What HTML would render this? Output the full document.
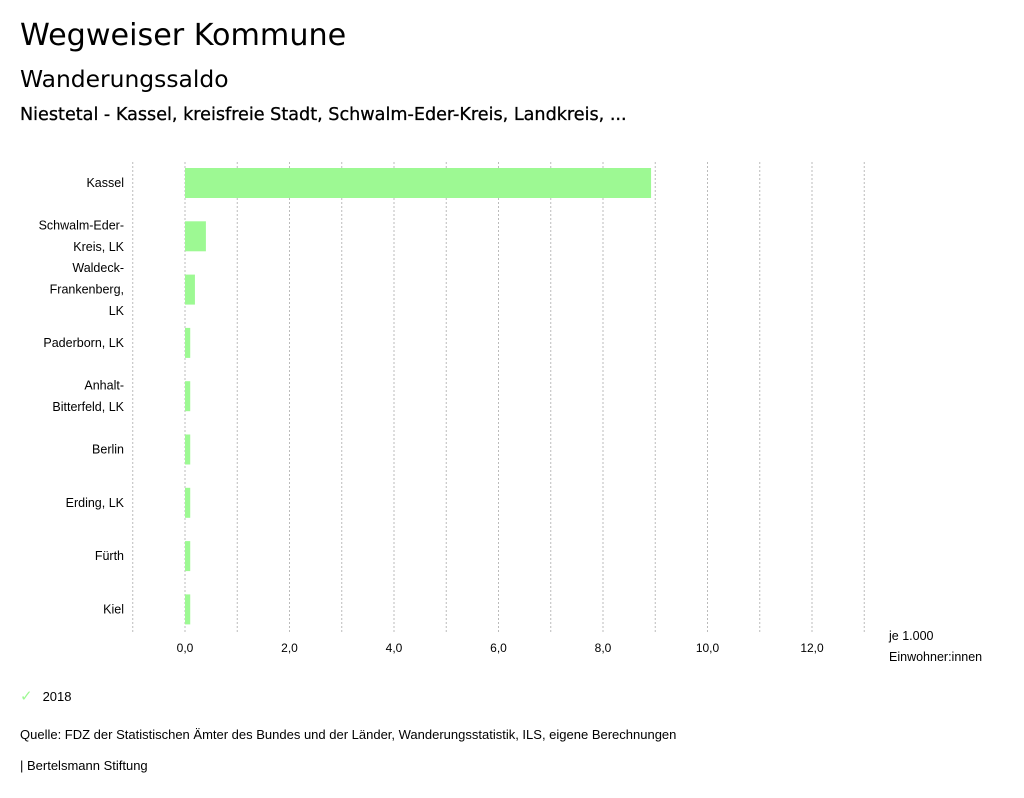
<!DOCTYPE html>
<html><head><meta charset="utf-8"><style>
body{margin:0;background:#fff;font-family:"Liberation Sans","DejaVu Sans",sans-serif;color:#000}
.dv{font-family:"DejaVu Sans","Liberation Sans",sans-serif}
</style></head><body>
<div style="position:relative;width:1024px;height:798px;overflow:hidden">
<div class="dv" style="position:absolute;left:20px;top:18px;font-size:30.2px">Wegweiser Kommune</div>
<div class="dv" style="position:absolute;left:20px;top:65px;font-size:23.4px">Wanderungssaldo</div>
<div class="dv" style="position:absolute;left:20px;top:105px;font-size:17.6px;-webkit-text-stroke:0.3px #000">Niestetal - Kassel, kreisfreie Stadt, Schwalm-Eder-Kreis, Landkreis, ...</div>
<svg id="chart" width="1024" height="798" style="position:absolute;left:0;top:0"></svg>
<div style="position:absolute;left:20px;top:687px;font-size:13px"><span style="color:#9df993;font-size:15px">✓</span><span style="margin-left:10px">2018</span></div>
<div style="position:absolute;left:20px;top:727px;font-size:13px">Quelle: FDZ der Statistischen Ämter des Bundes und der Länder, Wanderungsstatistik, ILS, eigene Berechnungen</div>
<div style="position:absolute;left:20px;top:758px;font-size:13px">| Bertelsmann Stiftung</div>
</div>
<script>
const categories=[["Kassel"],["Schwalm-Eder-","Kreis, LK"],["Waldeck-","Frankenberg,","LK"],["Paderborn, LK"],["Anhalt-","Bitterfeld, LK"],["Berlin"],["Erding, LK"],["Fürth"],["Kiel"]];
const values2018=[8.92,0.4,0.19,0.1,0.1,0.1,0.1,0.1,0.1];
const tickValues=[0,2,4,6,8,10,12];
const tickLabels=["0,0","2,0","4,0","6,0","8,0","10,0","12,0"];
const gridValues=[-1,0,1,2,3,4,5,6,7,8,9,10,11,12,13];
const svg=document.getElementById('chart');const NS='http://www.w3.org/2000/svg';
const x=v=>185+v*52.25;const yc=i=>183+i*53.3;
function mk(t,a){const e=document.createElementNS(NS,t);for(const k in a)e.setAttribute(k,a[k]);svg.appendChild(e);return e;}
gridValues.forEach(g=>{const l=mk('line',{x1:x(g),x2:x(g),y1:162,y2:632,stroke:'#bbb','stroke-dasharray':'2,2','stroke-width':1});

});
tickValues.forEach((t,i)=>{const e=mk('text',{x:x(t),y:652,'text-anchor':'middle','font-size':12});e.textContent=tickLabels[i];

});
categories.forEach((c,i)=>{
const r=mk('rect',{x:x(0),y:yc(i)-15,width:x(values2018[i])-x(0),height:30,fill:'#9df993'});


const n=c.length;c.forEach((s,j)=>{const t=mk('text',{x:124,y:yc(i)+4+(j-(n-1)/2)*21.5,'text-anchor':'end','font-size':12.5});t.textContent=s;

});
});
[["je 1.000",640],["Einwohner:innen",661]].forEach(a=>{const t=mk('text',{x:889,y:a[1],'font-size':12.5});t.textContent=a[0];

});
</script>
</body></html>
